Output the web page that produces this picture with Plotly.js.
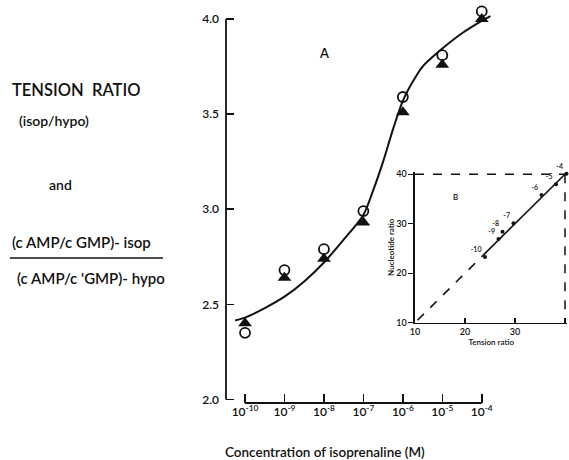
<!DOCTYPE html>
<html>
<head>
<meta charset="utf-8">
<script src="https://cdn.plot.ly/plotly-3.0.1.min.js"></script>
<style>html,body{margin:0;padding:0;background:#fff;}#chart{width:569px;height:460px;}</style>
</head>
<body>
<div id="chart"></div>
<script>
// ---- Panel A data (log10 concentration of isoprenaline, M) ----
const logConc = [-10, -9, -8, -7, -6, -5, -4];
const tickLabels = ["10<sup>-10</sup>", "10<sup>-9</sup>", "10<sup>-8</sup>", "10<sup>-7</sup>", "10<sup>-6</sup>", "10<sup>-5</sup>", "10<sup>-4</sup>"];
const nucleotideRatio = [2.35, 2.68, 2.79, 2.99, 3.59, 3.81, 4.04];   // open circles
const tensionRatio    = [2.40, 2.64, 2.74, 2.93, 3.51, 3.76, 4.00];   // filled triangles
// fitted curve as drawn
const curveX = [-10.25, -10, -9.5, -9, -8.5, -8, -7.5, -7, -6.75, -6.5, -6.25, -6, -5.75, -5.5, -5.25, -5, -4.5, -4, -3.78];
const curveY = [2.415, 2.43, 2.48, 2.54, 2.62, 2.72, 2.84, 2.97, 3.10, 3.25, 3.42, 3.57, 3.67, 3.75, 3.80, 3.845, 3.925, 3.99, 4.015];
const yTicks = [2.0, 2.5, 3.0, 3.5, 4.0];
const yTickText = ["2.0", "2.5", "3.0", "3.5", "4.0"];

// ---- Panel B data (inset) ----
const insetTension    = [24.0, 26.7, 27.5, 29.7, 35.3, 38.2, 40.3];
const insetNucleotide = [23.3, 26.9, 28.4, 30.1, 35.8, 38.0, 40.1];
const insetLabels = ["-10", "-9", "-8", "-7", "-6", "-5", "-4"];
const solidLine = [23.5, 40.4];
const dashedLine = [10.5, 23.5];
const insetTicks = [10, 20, 30, 40];

const FONT = "Lato, 'Open Sans', 'DejaVu Sans', sans-serif";
const INK = "#111";
const f = (size, weight) => ({family: FONT, size: size, color: INK, weight: weight || 600});

const traces = [
  {x: curveX, y: curveY, mode: "lines", line: {color: INK, width: 2, shape: "spline", smoothing: 0.8}, xaxis: "x", yaxis: "y", hoverinfo: "skip"},
  {x: logConc, y: tensionRatio, mode: "markers", marker: {symbol: "triangle-up", size: 12, color: INK}, cliponaxis: false, xaxis: "x", yaxis: "y"},
  {x: logConc, y: nucleotideRatio, mode: "markers", marker: {symbol: "circle-open", size: 10, color: INK, line: {width: 1.8, color: INK}}, cliponaxis: false, xaxis: "x", yaxis: "y"},
  {x: dashedLine, y: dashedLine, mode: "lines", line: {color: INK, width: 1.6, dash: "dash"}, xaxis: "x2", yaxis: "y2"},
  {x: solidLine, y: solidLine, mode: "lines", line: {color: INK, width: 1.6}, xaxis: "x2", yaxis: "y2"},
  {x: insetTension, y: insetNucleotide, mode: "markers+text", text: insetLabels, textposition: "top left",
   textfont: f(7), marker: {size: 4, color: INK}, cliponaxis: false, xaxis: "x2", yaxis: "y2"}
];

const layout = {
  width: 569, height: 460,
  margin: {l: 226, r: 0, t: 8, b: 57},
  paper_bgcolor: "#fff", plot_bgcolor: "rgba(0,0,0,0)",
  showlegend: false,
  font: {family: FONT, color: INK},
  xaxis: {
    domain: [0, 0.799], range: [-10.482, -3.536],
    tickvals: logConc, ticktext: tickLabels,
    ticks: "inside", ticklen: 9, tickwidth: 1.5, tickcolor: INK,
    showline: false, showgrid: false, zeroline: false,
    tickfont: f(12)
  },
  yaxis: {
    domain: [0, 1], range: [1.981, 4.058],
    tickvals: yTicks, ticktext: yTickText,
    ticks: "inside", ticklen: 8, tickwidth: 1.5, tickcolor: INK,
    showline: false, showgrid: false, zeroline: false,
    ticklabelstandoff: 6,
    tickfont: f(12)
  },
  xaxis2: {
    anchor: "y2", domain: [0.551, 0.9956], range: [10, 40.5],
    tickvals: insetTicks, ticks: "inside", ticklen: 5, tickwidth: 1.2, tickcolor: INK,
    showline: true, linecolor: INK, linewidth: 1.5, showgrid: false, zeroline: false,
    tickfont: f(9),
    title: {text: "Tension ratio", font: f(8), standoff: 2}
  },
  yaxis2: {
    anchor: "x2", domain: [0.2033, 0.5853], range: [10, 40.5],
    tickvals: insetTicks, ticks: "outside", ticklen: 5, tickwidth: 1.2, tickcolor: INK,
    showline: true, linecolor: INK, linewidth: 1.5, showgrid: false, zeroline: false,
    tickfont: f(9),
    title: {text: "Nucleotide ratio", font: f(8), standoff: 0}
  },
  shapes: [
    {type: "line", xref: "paper", yref: "y", x0: 0, x1: 0, y0: 2.0, y1: 4.0, line: {color: INK, width: 1.8}},
    {type: "line", xref: "x", yref: "paper", x0: -10, x1: -4, y0: 0, y1: 0, line: {color: INK, width: 1.8}},
    {type: "line", xref: "x2", yref: "y2", x0: 10, x1: 40, y0: 40, y1: 40, line: {color: INK, width: 1.5, dash: "dash"}},
    {type: "line", xref: "x2", yref: "y2", x0: 40, x1: 40, y0: 40, y1: 10, line: {color: INK, width: 1.5, dash: "dash"}},
    {type: "line", xref: "paper", yref: "paper", x0: -0.630, x1: -0.184, y0: 0.367, y1: 0.367, line: {color: INK, width: 1.6}}
  ],
  annotations: [
    {text: "A", x: -8.01, y: 3.82, xref: "x", yref: "y", showarrow: false, font: f(13)},
    {text: "B", x: 18.2, y: 35.5, xref: "x2", yref: "y2", showarrow: false, font: f(8)},
    {text: "Concentration of isoprenaline (M)", x: 0.290, y: -0.124, xref: "paper", yref: "paper", xanchor: "center", yanchor: "middle", showarrow: false, font: f(13.5)},
    {text: "TENSION  RATIO", x: -0.6297, y: 0.792, xref: "paper", yref: "paper", xanchor: "left", yanchor: "middle", showarrow: false, font: f(16.5)},
    {text: "(isop/hypo)", x: -0.609, y: 0.716, xref: "paper", yref: "paper", xanchor: "left", yanchor: "middle", showarrow: false, font: f(14)},
    {text: "and", x: -0.522, y: 0.552, xref: "paper", yref: "paper", xanchor: "left", yanchor: "middle", showarrow: false, font: f(14)},
    {text: "(c AMP/c GMP)- isop", x: -0.630, y: 0.4076, xref: "paper", yref: "paper", xanchor: "left", yanchor: "middle", showarrow: false, font: f(15)},
    {text: "(c AMP/c 'GMP)- hypo", x: -0.615, y: 0.3165, xref: "paper", yref: "paper", xanchor: "left", yanchor: "middle", showarrow: false, font: f(15)}
  ]
};

Plotly.newPlot("chart", traces, layout, {displayModeBar: false, staticPlot: true});
</script>
</body>
</html>
